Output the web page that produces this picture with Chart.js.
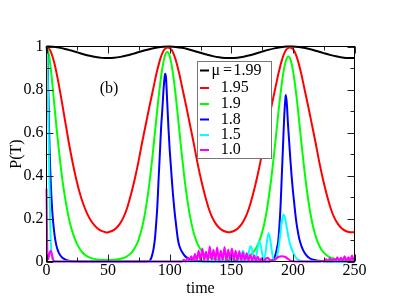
<!DOCTYPE html>
<html>
<head>
<meta charset="utf-8">
<style>
  html,body{margin:0;padding:0;background:#fff;}
  canvas{display:block;}
</style>
<script src="https://cdn.jsdelivr.net/npm/chart.js"></script>
</head>
<body>
<canvas id="c" width="399" height="308"></canvas>
<script>
// ---------------- data ----------------
const seriesLabels = ['μ=1.99', '1.95', '1.9', '1.8', '1.5', '1.0'];
const xTickValues = [0, 50, 100, 150, 200, 250];
const yTickValues = [0, 0.2, 0.4, 0.6, 0.8, 1];
const panelLabel = '(b)';
const xTitle = 'time';
const yTitle = 'P(T)';

const tBlack = [0,5,10,15,20,25,30,35,40,45,50,55,60,65,70,75,80,85,90,95,100,105,110,115,120,125,130,135,140,145,150,155,160,165,170,175,180,185,190,195,200,205,210,215,220,225,230,235,240,245,250];
const pBlack = [1.000,.9987,.9947,.9887,.9810,.9726,.9642,.9567,.9508,.9471,.9460,.9476,.9518,.9580,.9658,.9743,.9827,.9900,.9957,.9991,1.000,.9981,.9937,.9872,.9794,.9709,.9627,.9553,.9498,.9467,.9461,.9482,.9528,.9595,.9675,.9760,.9842,.9913,.9965,.9995,.9998,.9974,.9927,.9861,.9777,.9692,.9610,.9542,.9489,.9462,.9463];

const tRed = [0,3,6,9,12,15,18,21,24,27,30,33,36,39,42,45,48,49.25,
  50.5,53.5,56.5,59.5,62.5,65.5,68.5,71.5,74.5,77.5,80.5,83.5,86.5,89.5,92.5,95.5,98.5,
  101.5,104.5,107.5,110.5,113.5,116.5,119.5,122.5,125.5,128.5,131.5,134.5,137.5,140.5,143.5,146.5,148,
  149.5,152.5,155.5,158.5,161.5,164.5,167.5,170.5,173.5,176.5,179.5,182.5,185.5,188.5,191.5,194.5,197.5,
  200.5,203.5,206.5,209.5,212.5,215.5,218.5,221.5,224.5,227.5,230.5,233.5,236.5,239.5,242.5,245.5,247,250];
const pRed = [1,.982,.931,.853,.759,.657,.557,.466,.386,.319,.265,.223,.191,.168,.151,.141,.136,.135,
  .137,.143,.155,.175,.205,.25,.31,.38,.46,.55,.635,.72,.80,.88,.945,.985,.995,
  .985,.945,.88,.80,.72,.635,.55,.46,.38,.31,.25,.205,.175,.155,.143,.137,.136,
  .137,.143,.155,.175,.205,.25,.31,.38,.46,.55,.635,.72,.80,.88,.945,.985,.995,
  .985,.945,.88,.80,.72,.635,.55,.46,.38,.31,.25,.205,.175,.155,.143,.137,.136,.137];

const tGreen = [0,2,4,6,8,10,12,14,16,18,20,23,26,29,33,37,41,45,49,
  53,57,61,65,69,72,75,78,80,82,84,86,88,90,92,94,96,98,
  100,102,104,106,108,110,112,114,116,118,121,124,127,131,135,139,143,147,
  151.3,155.3,159.3,163.3,167.3,170.3,173.3,176.3,178.3,180.3,182.3,184.3,186.3,188.3,190.3,192.3,194.3,196.3,
  198.3,200.3,202.3,204.3,206.3,208.3,210.3,212.3,214.3,216.3,219.3,222.3,225.3,229.3,233.3,237.3,241.3,245.3,250];
const pGreen = [1,.96,.87,.75,.63,.52,.42,.335,.265,.205,.158,.105,.068,.043,.024,.0145,.0096,.0075,.0067,
  .0073,.0094,.014,.023,.041,.066,.105,.168,.226,.299,.387,.488,.599,.711,.814,.899,.955,.974,
  .955,.899,.814,.711,.599,.488,.387,.299,.226,.168,.105,.066,.041,.023,.014,.0094,.0073,.0065,
  .0071,.0091,.0135,.022,.040,.064,.103,.164,.221,.293,.378,.477,.586,.696,.797,.880,.934,.953,
  .934,.880,.797,.696,.586,.477,.378,.293,.221,.164,.103,.064,.040,.022,.0135,.0091,.0071,.0064,.0066];

const tBlue = [0,0.5,1,1.5,2,2.5,3,3.5,4,5,6,7,8,9,10,12,14,17,20,25,30,80,
  82,84,85,86,87,88,89,90,91,92,93,94,95,96,96.3,97,98,99,100,101,102,103,104,105,106,107,108,
  110,112,114,117,121,126,132,180,182,184,185,186,187,188,189,190,191,192,193,194,194.2,
  195,196,197,198,199,200,201,202,203,204,205,206,208,210,212,215,219,224,230,250];
const pBlue = [1,.98,.9,.78,.64,.52,.43,.36,.30,.21,.15,.105,.075,.055,.04,.023,.013,.005,.002,.0005,0,0,
  .001,.005,.016,.035,.062,.105,.175,.26,.385,.50,.62,.705,.80,.865,.873,.855,.74,.62,.52,.44,.36,.29,.23,.18,.13,.092,.07,
  .045,.028,.018,.009,.004,.001,0,0,.002,.01,.018,.035,.06,.09,.16,.26,.40,.54,.68,.765,.775,
  .74,.64,.555,.47,.395,.33,.275,.22,.175,.14,.11,.088,.056,.036,.022,.011,.005,.002,0,0];

const tCyan = [0,0.5,1,1.5,2,2.5,3,3.5,4,5,6,130,133,
  135.5,138,141,143.5,147,150,153.5,156.5,159.5,162.5,165.7,169.2,172.8,176.5,180.3,184.5,
  186.5,188,189,190,191,192.3,193.5,195,196.5,198,200,202,204,207,212,250];
const pCyan = [1,.96,.85,.68,.5,.33,.19,.09,.035,.008,0,0,0,
  .006,0,.012,.002,.02,.003,.032,.004,.05,.005,.072,.006,.094,.007,.132,.006,
  .015,.05,.09,.14,.185,.219,.205,.16,.11,.075,.045,.022,.009,.002,0,0];

const tMagenta = [0,0.4,0.8,1.5,2.5,3.5,4.5,5.5,7,110,
  111.5,113,114.5,116,117.5,119,120.5,122,123.5,125,126.5,128,129.5,131,132.5,134,135.5,137,138.5,140,
  141.5,143,144.5,146,147.5,149,150.5,152,153.5,155,156.5,158,159.5,161,162.5,164,165.5,167,168.5,170,
  171.5,173,174.5,176,177.5,179.5,181.5,184,186,188.5,191,193.5,196,198,200,205,222,
  224,225.5,227,228.5,230,231.5,233,234.5,236,237.5,239,240.5,242,243.5,245,246.5,248,249.2,250];
const pMagenta = [.34,.15,.03,.01,.04,.05,.03,.008,0,0,
  .008,0,.015,.002,.025,.003,.035,.005,.05,.004,.06,.006,.045,.003,.07,.008,.055,.005,.065,.004,
  .05,.006,.068,.003,.055,.008,.06,.005,.05,.004,.048,.006,.042,.005,.038,.004,.03,.004,.028,.003,
  .022,.003,.015,.002,.01,.018,.006,.004,.012,.022,.025,.022,.012,.004,.001,0,0,
  .004,0,.01,.001,.015,.002,.012,.003,.02,.002,.018,.004,.025,.003,.02,.004,.028,.005,.02];

// ---------------- styling ----------------
const FONT = '"Liberation Serif", "DejaVu Serif", serif';
const colors = ['#000000', '#ff0000', '#00ff00', '#0000ff', '#00ffff', '#ff00ff'];
const seriesT = [tBlack, tRed, tGreen, tBlue, tCyan, tMagenta];
const seriesP = [pBlack, pRed, pGreen, pBlue, pCyan, pMagenta];

const datasets = seriesLabels.map((lab, k) => ({
  label: lab,
  data: seriesT[k].map((t, i) => ({x: t, y: seriesP[k][i]})),
  borderColor: colors[k],
  backgroundColor: colors[k],
  borderWidth: 2,
  pointRadius: 0,
  fill: false,
  cubicInterpolationMode: 'monotone',
  clip: 3,
  order: 5 - k
}));

const framePlugin = {
  id: 'frame',
  afterDatasetsDraw(chart) {
    const {ctx, chartArea: a, scales: {x, y}} = chart;
    ctx.save();
    ctx.strokeStyle = '#000';
    ctx.lineWidth = 1;
    ctx.strokeRect(a.left, a.top, a.right - a.left, a.bottom - a.top);
    ctx.strokeStyle = '#222';
    ctx.beginPath();
    for (let v = 0; v <= 250.001; v += 25) {
      const px = Math.round(x.getPixelForValue(v)) + 0.5;
      const len = (v % 50 === 0) ? 7 : 4;
      ctx.moveTo(px, a.bottom); ctx.lineTo(px, a.bottom - len);
      ctx.moveTo(px, a.top); ctx.lineTo(px, a.top + len);
    }
    for (let i = 0; i <= 10; i++) {
      const py = Math.round(y.getPixelForValue(i / 10)) + 0.5;
      const len = (i % 2 === 0) ? 7 : 4;
      ctx.moveTo(a.left, py); ctx.lineTo(a.left + len, py);
      ctx.moveTo(a.right, py); ctx.lineTo(a.right - len, py);
    }
    ctx.stroke();

    ctx.fillStyle = '#000';
    ctx.font = '16px ' + FONT;
    ctx.textAlign = 'center';
    ctx.textBaseline = 'middle';
    ctx.fillText(panelLabel, 109, 89);

    ctx.fillStyle = '#fff';
    ctx.fillRect(197, 61, 75, 98);
    ctx.strokeStyle = '#777';
    ctx.strokeRect(197.5, 61.5, 74, 97);
    const rows = [70.5, 88, 104, 119.5, 135, 150];
    ctx.textAlign = 'left';
    ctx.textBaseline = 'middle';
    seriesLabels.forEach((lab, k) => {
      const ry = rows[k];
      ctx.strokeStyle = colors[k];
      ctx.lineWidth = 2;
      ctx.beginPath();
      ctx.moveTo(200, ry); ctx.lineTo(209, ry);
      ctx.stroke();
      ctx.fillStyle = '#000';
      if (k === 0) {
        ctx.fillText('μ', 211.5, ry);
        ctx.fillText('=', 223, ry);
        ctx.fillText(lab.split('=')[1], 233.5, ry);
      } else {
        ctx.fillText(lab, 220.7, ry);
      }
    });
    ctx.restore();
  }
};

new Chart(document.getElementById('c'), {
  type: 'line',
  data: {datasets},
  options: {
    responsive: false,
    animation: false,
    devicePixelRatio: 1,
    layout: {padding: {left: 0, top: 46.5, right: 44.5, bottom: 0}},
    scales: {
      x: {
        type: 'linear', min: 0, max: 250,
        grid: {display: false, drawTicks: false},
        border: {display: false},
        afterBuildTicks: s => { s.ticks = xTickValues.map(v => ({value: v})); },
        ticks: {padding: 0, color: '#000', font: {family: FONT, size: 16}, maxRotation: 0, autoSkip: false},
        title: {display: true, text: xTitle, color: '#000', font: {family: FONT, size: 16}, padding: {top: 0, bottom: 10}},
        afterFit: s => { s.height = 46.5; }
      },
      y: {
        min: 0, max: 1,
        grid: {display: false, drawTicks: false},
        border: {display: false},
        afterBuildTicks: s => { s.ticks = yTickValues.map(v => ({value: v})); },
        ticks: {padding: 3, color: '#000', font: {family: FONT, size: 16}, autoSkip: false,
                callback: v => String(Number(v.toFixed(1)))},
        title: {display: true, text: yTitle, color: '#000', font: {family: FONT, size: 16}, padding: {top: 7, bottom: 0}},
        afterFit: s => { s.width = 46.5; }
      }
    },
    plugins: {legend: {display: false}, tooltip: {enabled: false}},
    elements: {point: {radius: 0}}
  },
  plugins: [framePlugin]
});
</script>
</body>
</html>
